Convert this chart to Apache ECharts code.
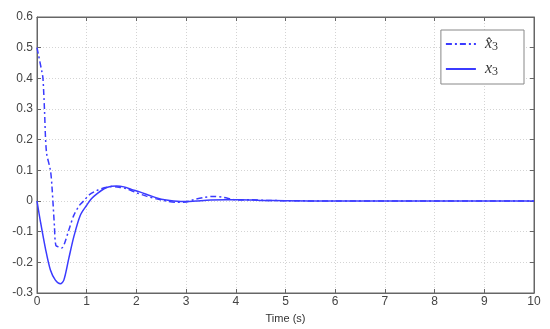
<!DOCTYPE html>
<html>
<head>
<meta charset="utf-8">
<script src="https://cdn.jsdelivr.net/npm/echarts@6/dist/echarts.min.js"></script>
<style>
  html, body { margin: 0; padding: 0; background: #fff; }
  #main { width: 550px; height: 329px; }
</style>
</head>
<body>
<div id="main"></div>
<script>
// 估计的观测值 x̂3（虚线）
const timeHat = [0, 0.1, 0.12, 0.15, 0.19, 0.27, 0.3, 0.35, 0.38, 0.45, 0.5, 0.55, 0.64, 0.74, 0.85, 0.94, 1.05, 1.2, 1.35, 1.5, 1.65, 1.8, 2.0, 2.2, 2.4, 2.6, 2.8, 3.0, 3.15, 3.35, 3.55, 3.75, 3.95, 4.1, 4.3, 4.6, 5, 6, 7, 8, 9, 10]
const x3Hat = [0.5, 0.42, 0.40, 0.30, 0.16, 0.10, 0.05, -0.08, -0.145, -0.15, -0.153, -0.14, -0.095, -0.047, -0.015, 0.0, 0.02, 0.034, 0.043, 0.047, 0.045, 0.04, 0.027, 0.016, 0.007, 0.0, -0.004, -0.003, 0.004, 0.011, 0.015, 0.012, 0.005, 0.003, 0.004, 0.002, 0.001, 0, 0, 0, 0, 0]

// 真实状态 x3（实线）
const timeTrue = [0, 0.07, 0.17, 0.27, 0.37, 0.47, 0.54, 0.64, 0.74, 0.87, 1.0, 1.1, 1.21, 1.35, 1.5, 1.6, 1.75, 1.9, 2.08, 2.25, 2.41, 2.6, 2.75, 3.0, 3.2, 3.5, 3.8, 4.1, 4.5, 5, 6, 7, 8, 9, 10]
const x3True = [0, -0.068, -0.155, -0.225, -0.258, -0.27, -0.258, -0.187, -0.117, -0.047, -0.014, 0.008, 0.024, 0.04, 0.048, 0.049, 0.046, 0.038, 0.029, 0.019, 0.01, 0.003, 0, -0.002, 0, 0.003, 0.004, 0.004, 0.002, 0.001, 0, 0, 0, 0, 0]

const zip = (t, v) => t.map((x, i) => [x, v[i]])

const lineColor = '#3b3bff'
const frameColor = '#666'

const option = {
    animation: false,
    grid: {
        left: 37,
        right: 16,
        top: 17,
        bottom: 35,
        show: true,
        borderColor: frameColor,
        borderWidth: 1
    },
    legend: {
        right: 26,
        top: 30,
        orient: 'vertical',
        backgroundColor: '#fff',
        borderColor: '#888',
        borderWidth: 1,
        padding: [6, 26, 6, 4],
        itemWidth: 30,
        itemHeight: 10,
        itemGap: 8,
        itemStyle: { opacity: 0 },
        data: ['xhat', 'x'],
        formatter: function (name) {
            return name === 'xhat' ? '{v|x\u0302}{s|3}' : '{v|x}{s|3}'
        },
        textStyle: {
            padding: [0, 0, 0, 4],
            rich: {
                v: { fontFamily: 'Liberation Serif', fontStyle: 'italic', fontSize: 16, color: '#333' },
                s: { fontFamily: 'Liberation Serif', fontSize: 12, color: '#333', verticalAlign: 'bottom', padding: [6, 0, 0, 0] }
            }
        }
    },
    xAxis: [
        {
            type: 'value',
            min: 0,
            max: 10,
            interval: 1,
            name: 'Time (s)',
            nameLocation: 'center',
            nameGap: 20,
            nameTextStyle: { fontFamily: 'Liberation Sans', fontSize: 11, color: '#333' },
            axisLine: { onZero: false, lineStyle: { color: frameColor } },
            axisTick: { inside: true, length: 4, lineStyle: { color: frameColor } },
            axisLabel: { fontFamily: 'Liberation Sans', fontSize: 12, color: '#444', margin: 3 },
            splitLine: { show: true, lineStyle: { color: '#d4d4d4', type: [1, 2] } }
        },
        {
            type: 'value',
            position: 'top',
            min: 0,
            max: 10,
            interval: 1,
            axisLine: { show: true, onZero: false, lineStyle: { color: frameColor } },
            axisTick: { inside: true, length: 4, lineStyle: { color: frameColor } },
            axisLabel: { show: false },
            splitLine: { show: false }
        }
    ],
    yAxis: [
        {
            type: 'value',
            min: -0.3,
            max: 0.6,
            interval: 0.1,
            axisLine: { show: true, onZero: false, lineStyle: { color: frameColor } },
            axisTick: { show: true, inside: true, length: 4, lineStyle: { color: frameColor } },
            axisLabel: {
                fontFamily: 'Liberation Sans', fontSize: 12, color: '#444', margin: 4,
                formatter: v => String(Math.round(v * 10) / 10)
            },
            splitLine: { show: true, lineStyle: { color: '#d4d4d4', type: [1, 2] } }
        },
        {
            type: 'value',
            position: 'right',
            min: -0.3,
            max: 0.6,
            interval: 0.1,
            axisLine: { show: true, onZero: false, lineStyle: { color: frameColor } },
            axisTick: { show: true, inside: true, length: 4, lineStyle: { color: frameColor } },
            axisLabel: { show: false },
            splitLine: { show: false }
        }
    ],
    series: [
        {
            name: 'xhat',
            type: 'line',
            data: zip(timeHat, x3Hat),
            symbol: 'none',
            smooth: 0.3,
            lineStyle: { color: lineColor, width: 1.5, type: [6, 3, 2, 3] },
            itemStyle: { color: lineColor }
        },
        {
            name: 'x',
            type: 'line',
            data: zip(timeTrue, x3True),
            symbol: 'none',
            smooth: 0.3,
            lineStyle: { color: lineColor, width: 1.5 },
            itemStyle: { color: lineColor }
        }
    ]
}

var myChart = echarts.init(document.getElementById('main'))
myChart.setOption(option)
</script>
</body>
</html>
